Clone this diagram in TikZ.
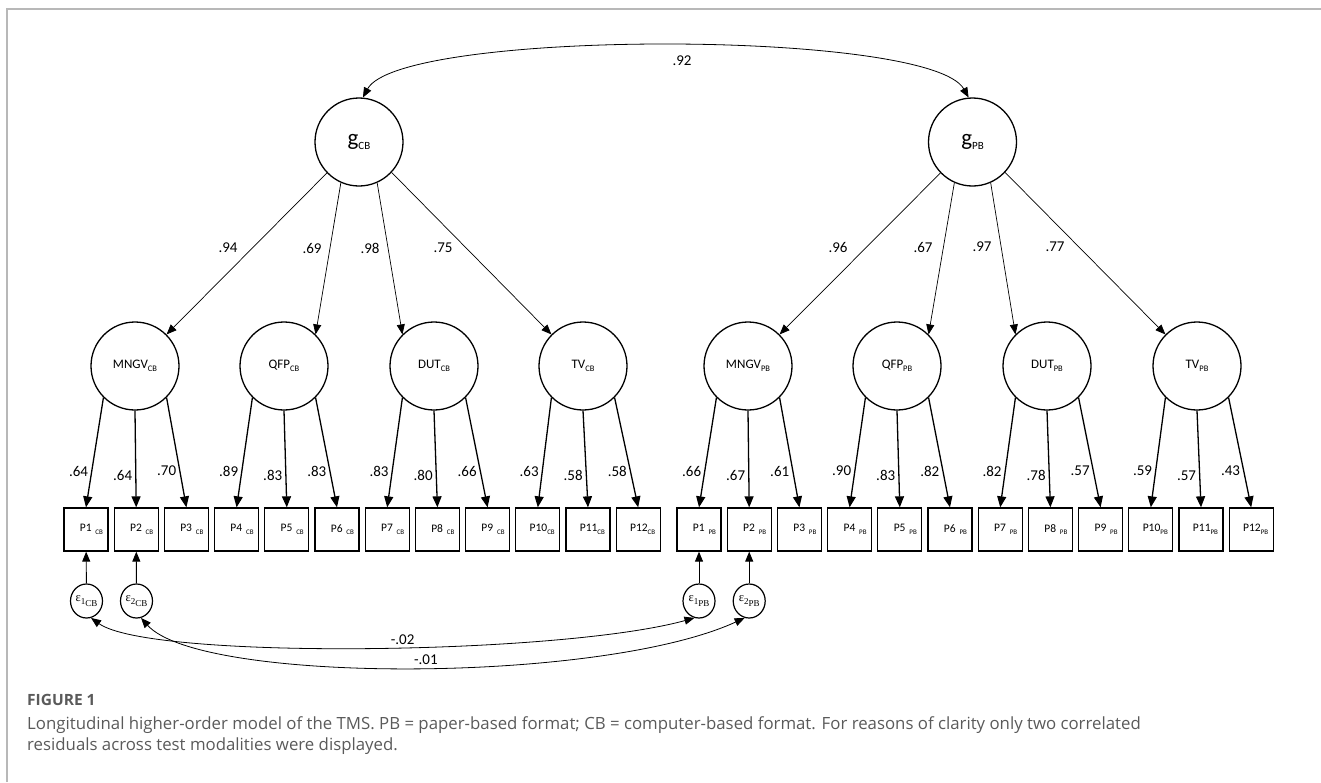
\documentclass[tikz,border=0pt]{standalone}
\usepackage{fontspec}
\setmainfont{Carlito}
\newfontfamily\capfont{Open Sans}
\newfontfamily\epsfont{Liberation Serif}
\usetikzlibrary{arrows.meta,shapes.geometric}

% lowered subscripts in the diagram font
\newcommand\gsub[1]{\raisebox{-3.5pt}{\fontsize{11}{11}\selectfont #1}}
\newcommand\fsub[1]{\raisebox{-2.5pt}{\fontsize{8.5}{8.5}\selectfont #1}}
\newcommand\psub[1]{\raisebox{-2.5pt}{\fontsize{7}{7}\selectfont #1}}
% residual label: epsilon with a two-level subscript
\newcommand\epslbl[2]{{\epsfont\fontsize{12.5}{12.5}\selectfont ε\raisebox{-2.5pt}{\fontsize{9}{9}\selectfont #1\raisebox{-2pt}{#2}}}}

\definecolor{framegray}{HTML}{B8B8B8}
\definecolor{capgray}{HTML}{5A5A5A}

\tikzset{
  lat/.style={circle, draw, line width=1.3pt, minimum size=88pt, inner sep=0pt},
  gfac/.style={lat, font=\fontsize{23}{23}\selectfont},
  fac/.style={lat, font=\fontsize{13}{13}\selectfont},
  obs/.style={rectangle, draw, line width=1.3pt, minimum width=44pt, minimum height=43pt,
              inner sep=0pt, text width=34pt, align=right, font=\fontsize{11.5}{11.5}\selectfont},
  err/.style={ellipse, draw, line width=1.2pt, minimum width=32pt, minimum height=34pt, inner sep=0pt},
  gpath/.style={line width=0.7pt, -{Triangle[length=10pt,width=8pt]}},
  fpath/.style={line width=1.3pt, -{Triangle[length=11pt,width=9pt]}},
  epath/.style={line width=0.9pt, -{Triangle[length=10pt,width=8pt]}},
  covpath/.style={line width=0.8pt, {Triangle[length=10pt,width=8pt]}-{Triangle[length=10pt,width=8pt]}},
  lbl/.style={font=\fontsize{15}{15}\selectfont, inner sep=0pt},
  captext/.style={anchor=base west, inner sep=0pt, text=capgray, font=\capfont\fontsize{16.8}{21}\selectfont},
}

\begin{document}
\begin{tikzpicture}[x=1pt, y=-1pt]
\useasboundingbox (0,0) rectangle (1321,782);

% panel frame
\draw[framegray, line width=1.2pt] (7,782) -- (7,9) -- (1321,9);

% second-order factors
\node[gfac] (gcb) at (359,142) {g\gsub{CB}};
\node[gfac] (gpb) at (972.5,142) {g\gsub{PB}};

% first-order factors
\node[fac] (mcb) at (135,366) {MNGV\fsub{CB}};
\node[fac] (qcb) at (284,366) {QFP\fsub{CB}};
\node[fac] (dcb) at (434,366) {DUT\fsub{CB}};
\node[fac] (tcb) at (583,366) {TV\fsub{CB}};
\node[fac] (mpb) at (748,366) {MNGV\fsub{PB}};
\node[fac] (qpb) at (897,366) {QFP\fsub{PB}};
\node[fac] (dpb) at (1047,366) {DUT\fsub{PB}};
\node[fac] (tpb) at (1197,366) {TV\fsub{PB}};

% indicators
\foreach \i in {1,...,12} {
  \ifnum\i<10
    \node[obs] (pc\i) at ({86+50.2*(\i-1)},529.5) {P\i\ \psub{CB}};
    \node[obs] (pp\i) at ({699+50.2*(\i-1)},529.5) {P\i\ \psub{PB}};
  \else
    \node[obs] (pc\i) at ({86+50.2*(\i-1)},529.5) {P\i\psub{CB}};
    \node[obs] (pp\i) at ({699+50.2*(\i-1)},529.5) {P\i\psub{PB}};
  \fi
}

% residuals
\node[err] (e1cb) at (86.5,601) {\epslbl{1}{CB}};
\node[err] (e2cb) at (136.5,601) {\epslbl{2}{CB}};
\node[err] (e1pb) at (699,601) {\epslbl{1}{PB}};
\node[err] (e2pb) at (749.2,601) {\epslbl{2}{PB}};

% correlation of the general factors
\draw[covpath] (gcb.85) .. controls (400,29) and (930,29) .. (gpb.95);
\node[lbl] (r92) at (682,61) {.92};

% second-order loadings
\draw[gpath] (gcb.-136) -- (mcb.45);
\draw[gpath] (gcb.-114) -- (qcb.45);
\draw[gpath] (gcb.-66) -- (dcb.135);
\draw[gpath] (gcb.-43) -- (tcb.135);
\draw[gpath] (gpb.-136) -- (mpb.45);
\draw[gpath] (gpb.-114) -- (qpb.45);
\draw[gpath] (gpb.-66) -- (dpb.135);
\draw[gpath] (gpb.-43) -- (tpb.135);
\node[lbl] (l94) at (228,248) {.94};
\node[lbl] (l69) at (312,248) {.69};
\node[lbl] (l98) at (370,248) {.98};
\node[lbl] (l75) at (443,248) {.75};
\node[lbl] (l96) at (838,247) {.96};
\node[lbl] (l67) at (923,247) {.67};
\node[lbl] (l97) at (982,247) {.97};
\node[lbl] (l77) at (1055,247) {.77};

% first-order loadings
\foreach \f/\s/\a/\b/\c/\la/\lb/\lc in {
    mcb/pc/1/2/3/.64/.64/.70, qcb/pc/4/5/6/.89/.83/.83,
    dcb/pc/7/8/9/.83/.80/.66, tcb/pc/10/11/12/.63/.58/.58,
    mpb/pp/1/2/3/.66/.67/.61, qpb/pp/4/5/6/.90/.83/.82,
    dpb/pp/7/8/9/.82/.78/.57, tpb/pp/10/11/12/.59/.57/.43} {
  \draw[fpath] (\f.225) -- node[lbl, pos=0.67, left=3pt] {\la} (\s\a.north);
  \draw[fpath] (\f.south) -- node[lbl, pos=0.67, left=3pt] {\lb} (\s\b.north);
  \draw[fpath] (\f.-45) -- node[lbl, pos=0.67, left=3pt] {\lc} (\s\c.north);
}

% residual paths
\draw[epath] (e1cb) -- (pc1);
\draw[epath] (e2cb) -- (pc2);
\draw[epath] (e1pb) -- (pp1);
\draw[epath] (e2pb) -- (pp2);

% correlated residuals
\draw[covpath] (e1cb.-75) .. controls (150,660) and (560,655) .. (e1pb.-105)
  node[lbl, pos=0.55, above=2pt] (r02) {-.02};
\draw[covpath] (e2cb.-75) .. controls (200,684) and (600,684) .. (e2pb.-105)
  node[lbl, pos=0.52, above=2pt] (r01) {-.01};

% caption
\node[captext, font=\capfont\bfseries\fontsize{15.5}{15.5}\selectfont] (fig) at (27,705) {FIGURE 1};
\node[captext] (cap1) at (27,729)
  {Longitudinal higher-order model of the TMS. PB = paper-based format; CB = computer-based format. For reasons of clarity only two correlated};
\node[captext] (cap2) at (27,750)
  {residuals across test modalities were displayed.};
\end{tikzpicture}
\end{document}
